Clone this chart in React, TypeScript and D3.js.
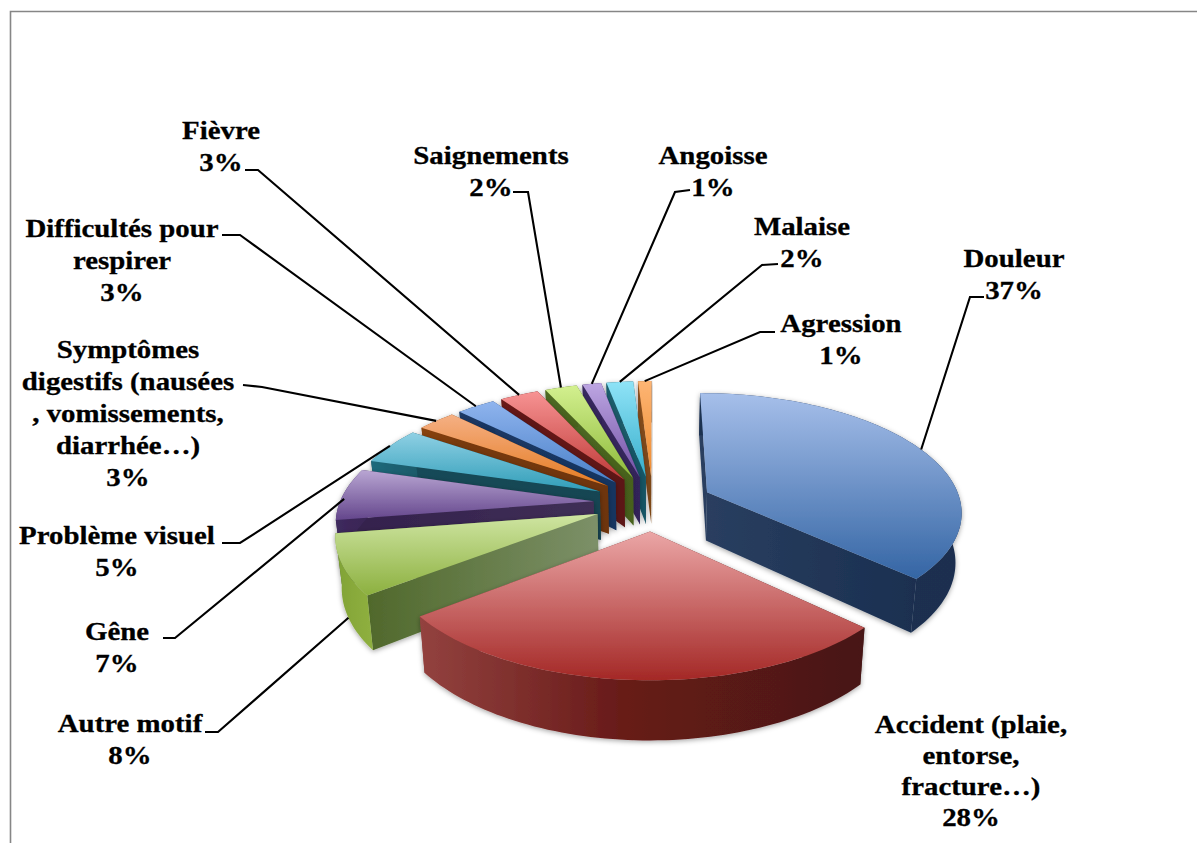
import { useMemo } from "react";
import * as d3 from "d3";

// motifs, clockwise from the top of the pie
const categories = [
    "Douleur",
    "Accident (plaie, entorse, fracture…)",
    "Autre motif",
    "Gêne",
    "Problème visuel",
    "Symptômes digestifs (nausées , vomissements, diarrhée…)",
    "Difficultés pour respirer",
    "Fièvre",
    "Saignements",
    "Angoisse",
    "Malaise",
    "Agression",
];
// slice sizes, the labels show them rounded
const values = [ 37, 27.5, 8, 7, 5, 2.9, 2.9, 2.9, 2.4, 1.4, 2, 1 ];

// the way each category wraps in its label
const labelLines = [
    [ "Douleur" ],
    [ "Accident (plaie,", "entorse,", "fracture…)" ],
    [ "Autre motif" ],
    [ "Gêne" ],
    [ "Problème visuel" ],
    [ "Symptômes", "digestifs (nausées", ", vomissements,", "diarrhée…)" ],
    [ "Difficultés pour", "respirer" ],
    [ "Fièvre" ],
    [ "Saignements" ],
    [ "Angoisse" ],
    [ "Malaise" ],
    [ "Agression" ],
];

// colours
const topLight = [ "#a6bfea", "#eba6a6", "#cfe5a2", "#b9a6d3", "#8fd0e4", "#f5b084", "#8fb4ee", "#f79393", "#d3f08f", "#bda6e2", "#8fe3f7", "#fdb574" ];
const topDark = [ "#3465a4", "#a42826", "#8cb03f", "#64468c", "#2f9db8", "#e57b22", "#4a80c8", "#bf3a38", "#8db93a", "#7150a5", "#37aecb", "#ee8a2e" ];
const wallFrom = [ "#2a3f60", "#8f3c3a", "#4a6323", "#33204d", "#174c5a", "#7a3b0b", "#1b3a66", "#6a1a18", "#4f6a22", "#3a2a60", "#1d6070", "#8a5020" ];
const wallTo = [ "#1a2f50", "#3d1311", "#7c9068", "#3f2f55", "#124552", "#6e340a", "#183460", "#5c1614", "#47611e", "#33245a", "#175565", "#7a4518" ];
const arcFrom = [ "#1a3050", "#93423f", "#7fa236", "#3f2a5e", "#1f6a7c", "#8a4410", "#1b3a66", "#6a1a18", "#4f6a22", "#3a2a60", "#1d6070", "#8a5020" ];
const arcMid = [ "#1a3050", "#681b19", "#88a93a", "#3c2759", "#1c6272", "#823f0e", "#1a3763", "#631816", "#4b6520", "#36275d", "#1a5a6a", "#824a1c" ];
const arcTo = [ "#1a2f50", "#471816", "#8fb040", "#3a2556", "#1a5a6a", "#7a3a0c", "#183460", "#5c1614", "#47611e", "#33245a", "#175565", "#7a4518" ];

// projection of the tilted disc
const CX = 653, CY = 503;
const F = 254, G = 117, DEPTH = 49, PERSP = 0.15, EXPLODE = 0.235;

const project = ( X: number, Y: number, Z = 0 ): [ number, number ] =>
{
    const w = 1 - PERSP * Y;
    return [ CX + ( F * X / w ) * ( 1 - 0.02 * Z ), CY + ( G * Y + DEPTH * Z ) / w ];
};

// where each label sits: centre x, first baseline, line step
const labelX = [ 1014, 971, 130, 117, 117, 128, 122, 221, 491, 713, 802, 841 ];
const labelY = [ 267, 733, 732, 640, 544, 358, 237, 139, 164, 164, 235, 332 ];
const labelStep = [ 32, 31, 32, 32, 32, 32, 32, 32, 32, 32, 32, 32 ];
const TEXT_STRETCH = 1.11;

// leader lines: start, elbow, and how far down the wall they land
const leaderFrom: ( [ number, number ] | null )[] = [
    [ 984, 297 ], null, [ 205, 732 ], [ 163, 638 ], [ 222, 543 ], [ 243, 385 ],
    [ 222, 235 ], [ 245, 170 ], [ 513, 192 ], [ 690, 190 ], [ 778, 264 ], [ 775, 332 ],
];
const leaderElbow: ( [ number, number ] | null )[] = [
    [ 970, 297 ], null, [ 218, 732 ], [ 175, 638 ], [ 240, 543 ], [ 262, 387 ],
    [ 240, 235 ], [ 258, 170 ], [ 528, 192 ], [ 675, 192 ], [ 762, 265 ], [ 760, 332 ],
];
const leaderZ = [ 0, 0, 1, 0.1, 0, 0, 0, 0, 0, 0, 0, 0 ];

const line = d3.line();

export default function App ()
{
    const slices = useMemo( () =>
    {
        const pie = d3.pie<number>().sort( null ).value( ( d ) => d );
        return pie( values ).map( ( d, i ) =>
        {
            const mid = ( d.startAngle + d.endAngle ) / 2;
            const ox = EXPLODE * Math.sin( mid );
            const oy = -EXPLODE * Math.cos( mid );
            const steps = Math.max( 4, Math.ceil( ( d.endAngle - d.startAngle ) * 40 ) );
            const angles = d3.range( steps + 1 ).map( ( k ) => d.startAngle + ( d.endAngle - d.startAngle ) * k / steps );
            const rim = ( z: number ) => angles.map( ( a ) => project( ox + Math.sin( a ), oy - Math.cos( a ), z ) );
            const topRim = rim( 0 );
            const botRim = rim( 1 );
            const apexT = project( ox, oy, 0 );
            const apexB = project( ox, oy, 1 );
            const topPts = [ apexT, ...topRim ];
            const ys = topPts.map( ( p ) => p[ 1 ] );
            const xs = [ ...topRim, ...botRim ].map( ( p ) => p[ 0 ] );
            return {
                i, oy, mid,
                top: line( topPts ) + "Z",
                arcWall: line( [ ...topRim, ...[ ...botRim ].reverse() ] ) + "Z",
                startWall: line( [ apexT, topRim[ 0 ], botRim[ 0 ], apexB ] ) + "Z",
                endWall: line( [ apexT, topRim[ steps ], botRim[ steps ], apexB ] ) + "Z",
                y0: d3.min( ys )!, y1: d3.max( ys )!,
                x0: d3.min( xs )!, x1: d3.max( xs )!,
                wx0: Math.min( apexT[ 0 ], topRim[ 0 ][ 0 ], topRim[ steps ][ 0 ] ),
                wx1: Math.max( apexT[ 0 ], topRim[ 0 ][ 0 ], topRim[ steps ][ 0 ] ),
                anchor: project( ox + Math.sin( mid ), oy - Math.cos( mid ), leaderZ[ i ] ),
            };
        } );
    }, [] );

    const order = d3.sort( slices, ( s ) => s.oy );

    return (
        <svg width={ 1197 } height={ 843 } style={ { position: "fixed", left: 0, top: 0, background: "#fff" } }
            fontFamily="'Liberation Serif', serif" fontWeight={ 700 } fontSize={ 26 }>
            <defs>
                <filter id="soft" x="-10%" y="-10%" width="120%" height="120%">
                    <feDropShadow dx="0" dy="1.5" stdDeviation="2.5" floodColor="#000" floodOpacity="0.35" />
                </filter>
                { slices.map( ( s ) => (
                    <g key={ s.i }>
                        <linearGradient id={ `top${ s.i }` } gradientUnits="userSpaceOnUse" x1={ 0 } x2={ 0 } y1={ s.y0 } y2={ s.y1 }>
                            <stop offset="0" stopColor={ topLight[ s.i ] } />
                            <stop offset="1" stopColor={ topDark[ s.i ] } />
                        </linearGradient>
                        <linearGradient id={ `wall${ s.i }` } gradientUnits="userSpaceOnUse" x1={ s.wx0 } x2={ s.wx1 } y1={ 0 } y2={ 0 }>
                            <stop offset="0" stopColor={ wallFrom[ s.i ] } />
                            <stop offset="1" stopColor={ wallTo[ s.i ] } />
                        </linearGradient>
                        <linearGradient id={ `arc${ s.i }` } gradientUnits="userSpaceOnUse" x1={ s.x0 } x2={ s.x1 } y1={ 0 } y2={ 0 }>
                            <stop offset="0" stopColor={ arcFrom[ s.i ] } />
                            <stop offset="0.45" stopColor={ arcMid[ s.i ] } />
                            <stop offset="1" stopColor={ arcTo[ s.i ] } />
                        </linearGradient>
                    </g>
                ) ) }
            </defs>

            <path d="M1197,11.5H10.5V843" fill="none" stroke="#868686" strokeWidth={ 1.6 } />

            { order.map( ( s ) => (
                <g key={ s.i } filter="url(#soft)">
                    <path d={ s.startWall } fill={ `url(#wall${ s.i })` } />
                    <path d={ s.endWall } fill={ `url(#wall${ s.i })` } />
                    <path d={ s.arcWall } fill={ `url(#arc${ s.i })` } />
                    <path d={ s.top } fill={ `url(#top${ s.i })` } />
                </g>
            ) ) }

            { slices.map( ( s ) =>
            {
                const from = leaderFrom[ s.i ];
                const elbow = leaderElbow[ s.i ];
                return from && elbow
                    ? <path key={ s.i } d={ line( [ from, elbow, s.anchor ] )! } fill="none" stroke="#000" strokeWidth={ 2.1 } />
                    : null;
            } ) }

            { categories.map( ( c, i ) => (
                <g key={ c } fill="#000" stroke="#000" strokeWidth={ 0.3 } textAnchor="middle">
                    { [ ...labelLines[ i ], `${ Math.round( values[ i ] ) }%` ].map( ( t, k ) => (
                        <text key={ k }
                            transform={ `translate(${ labelX[ i ] },${ labelY[ i ] + k * labelStep[ i ] }) scale(${ TEXT_STRETCH },1)` }>{ t }</text>
                    ) ) }
                </g>
            ) ) }
        </svg>
    );
}
